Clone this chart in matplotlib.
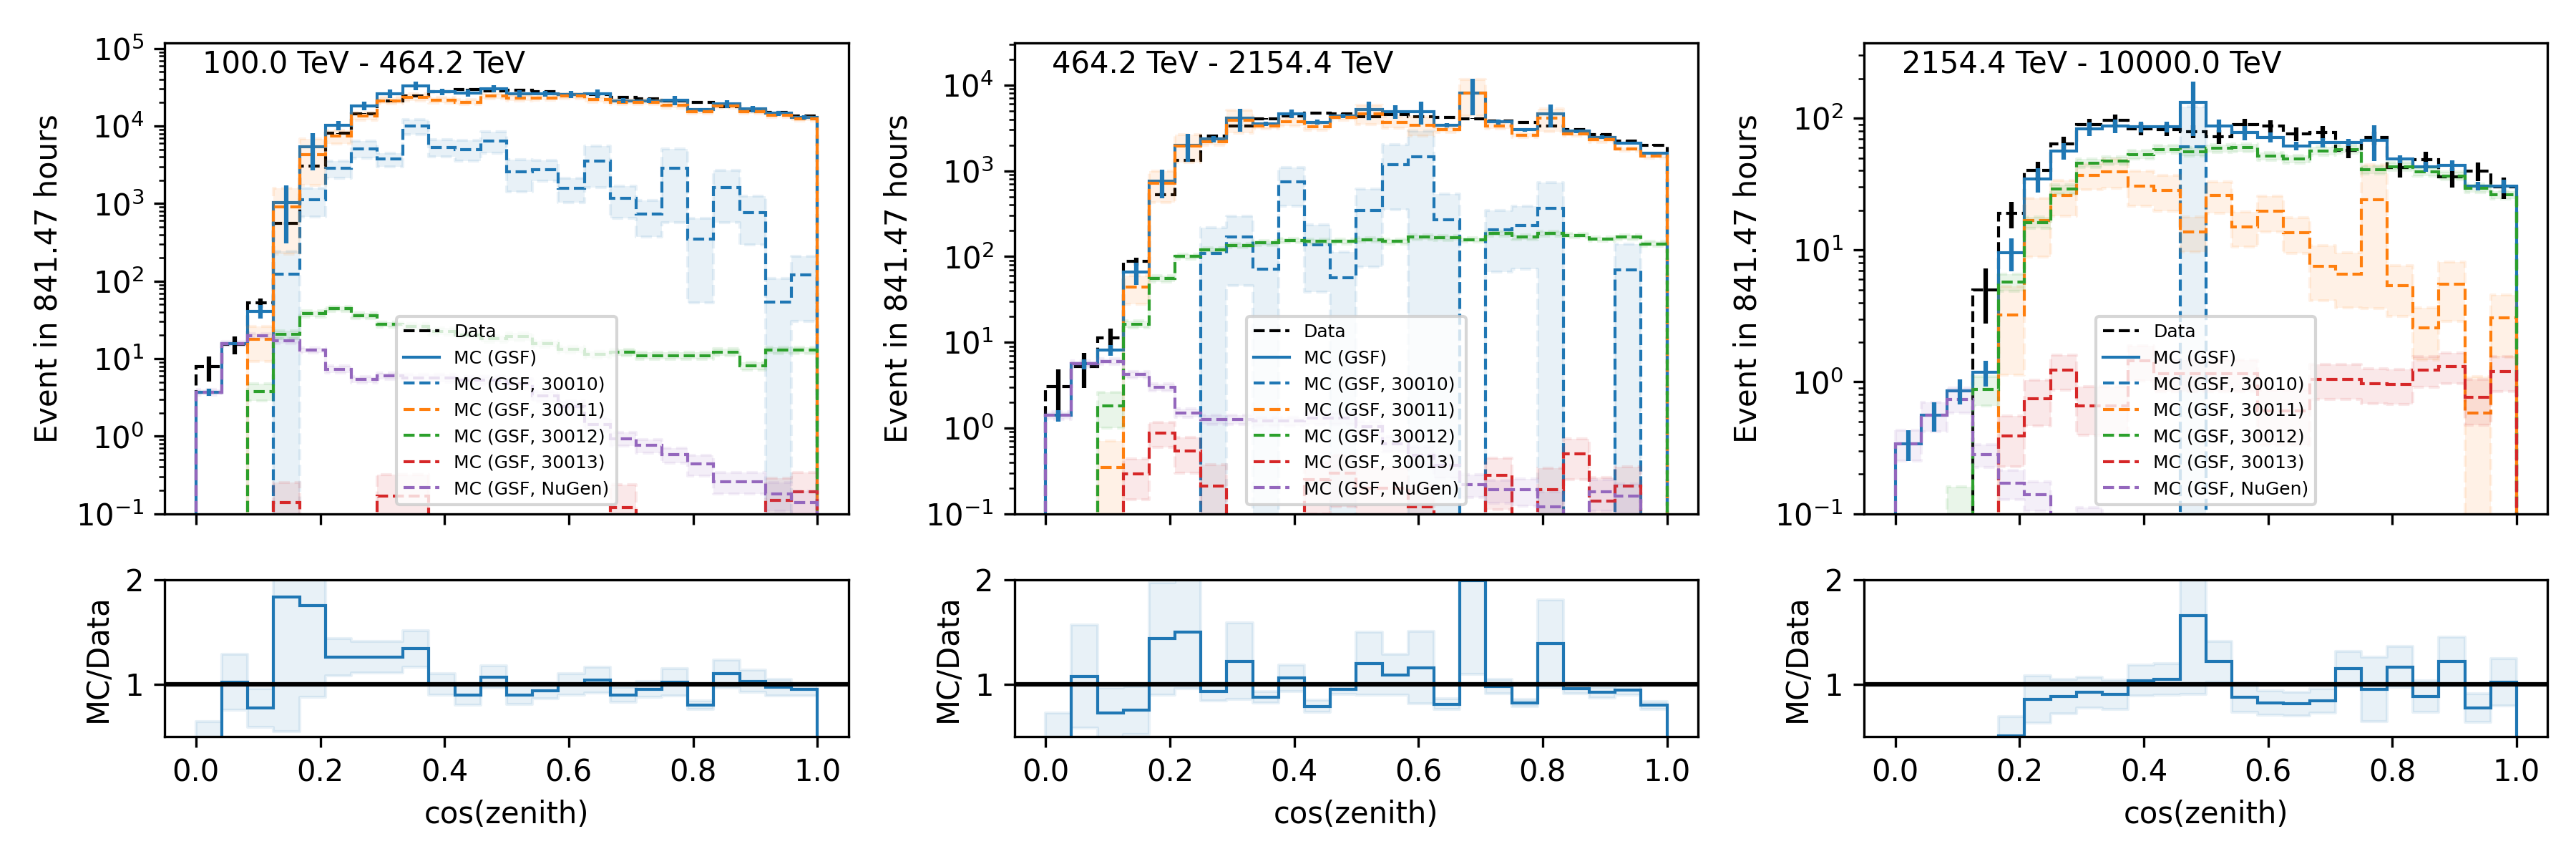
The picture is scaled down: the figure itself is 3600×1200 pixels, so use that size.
import numpy as np
import matplotlib
matplotlib.use("Agg")
import matplotlib.pyplot as plt

# === bins in cos(zenith) ===
edges = np.linspace(0.0, 1.0, 25)
centers = 0.5 * (edges[1:] + edges[:-1])

energy_labels = ["100.0 TeV - 464.2 TeV", "464.2 TeV - 2154.4 TeV", "2154.4 TeV - 10000.0 TeV"]
comp_names = ["MC (GSF, 30010)", "MC (GSF, 30011)", "MC (GSF, 30012)", "MC (GSF, 30013)", "MC (GSF, NuGen)"]
comp_colors = ["C0", "C1", "C2", "C3", "C4"]
ymax = [1.18e5, 3.1e4, 372]

# === panel 1: 100.0 TeV - 464.2 TeV ===
data_1 = [7.9, 15.4, 53, 557, 3063, 8095, 14520, 20870, 24630, 27800, 29890, 28320,
          29220, 27980, 25700, 25290, 23670, 22420, 21080, 20380, 17640, 16120, 15050, 13580]
mc_1 = [3.7, 15.7, 41, 1020, 5360, 10200, 18300, 26300, 33000, 27800, 26900, 30300,
        26300, 26300, 25700, 26300, 21300, 21300, 21500, 16300, 19400, 16600, 14600, 12900]
mc_err_1 = [0.1, 0.05, 0.2, 0.7, 0.5, 0.14, 0.12, 0.12, 0.13, 0.1, 0.11, 0.1,
            0.1, 0.08, 0.1, 0.12, 0.08, 0.08, 0.13, 0.05, 0.12, 0.1, 0.08, 0.06]
c30010_1 = [0, 0, 0, 122, 1130, 2840, 5100, 3740, 10000, 5350, 5000, 6450,
            2560, 2760, 1570, 3550, 1170, 740, 2830, 350, 1620, 770, 54, 120]
c30010_err_1 = [0, 0, 0, 1.0, 0.4, 0.25, 0.25, 0.2, 0.22, 0.25, 0.3, 0.3,
                0.45, 0.3, 0.35, 0.55, 0.45, 0.5, 0.8, 0.85, 0.65, 0.62, 1.0, 0.75]
c30011_1 = [0, 0, 17.6, 900, 4290, 7370, 13500, 21300, 23600, 21500, 20400, 24400,
            23000, 23000, 24400, 21800, 20400, 20400, 18500, 15300, 18000, 15300, 13700, 12500]
c30011_err_1 = [0, 0, 0.48, 0.75, 0.6, 0.2, 0.12, 0.1, 0.1, 0.08, 0.08, 0.08,
                0.08, 0.07, 0.07, 0.07, 0.07, 0.07, 0.07, 0.06, 0.06, 0.06, 0.06, 0.06]
c30012_1 = [0, 0, 3.8, 20.5, 38, 44, 36, 27.7, 26, 22.5, 20.4, 18,
            19.2, 15.5, 13.1, 11.3, 12.1, 11, 11, 11, 12.2, 8.1, 12.9, 12.9]
c30012_err_1 = [0, 0, 0.25, 0.12, 0.1, 0.08, 0.08, 0.08, 0.1, 0.1, 0.1, 0.1,
                0.12, 0.1, 0.1, 0.1, 0.1, 0.1, 0.1, 0.1, 0.1, 0.12, 0.1, 0.1]
c30013_1 = [0, 0, 0, 0.14, 0, 0, 0, 0.17, 0.17, 0, 0, 0,
            0, 0, 0, 0, 0.12, 0, 0, 0, 0, 0, 0.15, 0.19]
c30013_err_1 = [0, 0, 0, 0.8, 0, 0, 0, 0.9, 0.9, 0, 0, 0,
                0, 0, 0, 0, 1.0, 0, 0, 0, 0, 0, 0.9, 0.8]
nugen_1 = [3.7, 15.7, 19.8, 17, 12.8, 7.3, 5.4, 6.0, 5.6, 5.6, 5.3, 5.3,
           4.8, 3.3, 2.4, 1.43, 0.93, 0.76, 0.58, 0.44, 0.26, 0.26, 0.18, 0.14]
nugen_err_1 = [0.08, 0.06, 0.06, 0.07, 0.08, 0.1, 0.1, 0.1, 0.12, 0.12, 0.12, 0.12,
               0.15, 0.15, 0.18, 0.2, 0.2, 0.2, 0.22, 0.3, 0.3, 0.3, 0.4, 0.4]

# === panel 2: 464.2 TeV - 2154.4 TeV ===
data_2 = [3.07, 5.2, 11.2, 88, 530, 1330, 2530, 3360, 4050, 4390, 4680, 4600,
          4290, 4520, 4250, 4200, 4070, 3800, 3660, 3310, 3020, 2670, 2220, 2000]
mc_2 = [1.4, 5.6, 8.1, 66, 760, 1990, 2350, 4100, 3560, 4650, 3700, 4370,
        5150, 4930, 4930, 3400, 8100, 3720, 3000, 4600, 2900, 2460, 2090, 1600]
mc_err_2 = [0.15, 0.13, 0.14, 0.29, 0.37, 0.36, 0.09, 0.3, 0.06, 0.12, 0.07, 0.05,
            0.25, 0.18, 0.3, 0.06, 0.45, 0.07, 0.04, 0.3, 0.05, 0.05, 0.04, 0.04]
c30010_2 = [0, 0, 0, 0, 0, 0, 109, 170, 71, 740, 137, 57,
            346, 1180, 1450, 268, 0, 205, 229, 363, 0, 0, 70, 0]
c30010_err_2 = [0, 0, 0, 0, 0, 0, 1.0, 0.73, 1.0, 0.48, 0.72, 1.0,
                0.78, 0.7, 1.0, 1.0, 0, 0.68, 0.69, 1.0, 0, 0, 1.0, 0]
c30011_2 = [0, 0, 0.35, 44, 710, 1960, 2190, 3900, 3330, 3720, 3240, 4170,
            4650, 3700, 3400, 3000, 8000, 3330, 2600, 4100, 2700, 2300, 1800, 1480]
c30011_err_2 = [0, 0, 1.0, 0.37, 0.4, 0.36, 0.1, 0.3, 0.07, 0.1, 0.08, 0.06,
                0.25, 0.15, 0.25, 0.07, 0.45, 0.08, 0.05, 0.3, 0.06, 0.06, 0.05, 0.05]
c30012_2 = [0, 0, 1.8, 16.3, 55, 100, 120, 135, 144, 153, 150, 150,
            158, 150, 168, 165, 158, 185, 168, 185, 175, 160, 168, 141]
c30012_err_2 = [0, 0, 0.45, 0.1, 0.08, 0.06, 0.06, 0.06, 0.06, 0.06, 0.06, 0.06,
                0.06, 0.06, 0.06, 0.06, 0.06, 0.06, 0.06, 0.06, 0.06, 0.06, 0.06, 0.06]
c30013_2 = [0, 0, 0, 0.29, 0.88, 0.54, 0.21, 0, 0, 0, 0.25, 0.3,
            0.2, 0.2, 0.12, 0, 0, 0.28, 0, 0.19, 0.5, 0.14, 0.21, 0]
c30013_err_2 = [0, 0, 0, 0.5, 0.33, 0.45, 0.8, 0, 0, 0, 0.6, 0.6,
                0.7, 0.7, 0.8, 0, 0, 0.6, 0, 0.8, 0.5, 0.9, 0.7, 0]
nugen_2 = [1.4, 5.6, 6.0, 4.2, 3.0, 1.5, 1.26, 1.25, 1.2, 1.2, 1.3, 1.3,
           1.03, 0.66, 0.48, 0.37, 0.22, 0.19, 0.19, 0.12, 0, 0.18, 0.16, 0]
nugen_err_2 = [0.1, 0.08, 0.07, 0.08, 0.1, 0.12, 0.12, 0.12, 0.12, 0.12, 0.15, 0.15,
               0.15, 0.2, 0.25, 0.3, 0.3, 0.3, 0.35, 0.5, 0, 0.4, 0.4, 0]

# === panel 3: 2154.4 TeV - 10000.0 TeV ===
data_3 = [0, 0, 0, 5.0, 18.9, 40.3, 64, 90, 97, 83, 82, 79,
          72, 89, 87.5, 76, 78, 57, 71, 42, 48.6, 35.9, 39.7, 30]
mc_3 = [0.34, 0.56, 0.86, 1.18, 9.6, 34.5, 56.5, 83, 87.5, 86, 86, 131,
        87.5, 77.7, 71.8, 61.7, 65.5, 65.5, 67.6, 49, 43, 43.8, 30.6, 30.6]
mc_err_3 = [0.26, 0.25, 0.22, 0.22, 0.28, 0.21, 0.14, 0.12, 0.12, 0.09, 0.09, 0.44,
            0.11, 0.12, 0.09, 0.08, 0.08, 0.06, 0.3, 0.07, 0.09, 0.09, 0.08, 0.12]
c30010_3 = [0, 0, 0, 0, 0, 0, 0, 0, 0, 0, 0, 61,
            0, 0, 0, 0, 0, 0, 0, 0, 0, 0, 0, 0]
c30010_err_3 = [0, 0, 0, 0, 0, 0, 0, 0, 0, 0, 0, 1.0,
                0, 0, 0, 0, 0, 0, 0, 0, 0, 0, 0, 0]
c30011_3 = [0, 0, 0, 0, 3.2, 16.7, 25.8, 37, 39.4, 30.6, 28.3, 13.8,
            26, 15, 19.7, 13.5, 7.5, 6.6, 24, 5.4, 2.56, 5.5, 0.58, 3.06]
c30011_err_3 = [0, 0, 0, 0, 0.65, 0.47, 0.3, 0.22, 0.25, 0.3, 0.3, 0.3,
                0.27, 0.3, 0.3, 0.3, 0.45, 0.45, 0.85, 0.42, 0.43, 0.48, 0.9, 0.5]
c30012_3 = [0, 0, 0.08, 0.88, 5.7, 16.2, 29, 45.7, 47.5, 53, 58, 55.7,
            59, 60, 51.5, 48.8, 56.5, 58, 40.5, 43, 39.3, 36.6, 29.5, 26.3]
c30012_err_3 = [0, 0, 1.0, 0.25, 0.15, 0.1, 0.08, 0.07, 0.07, 0.07, 0.07, 0.07,
                0.07, 0.07, 0.07, 0.07, 0.07, 0.07, 0.07, 0.07, 0.07, 0.07, 0.07, 0.07]
c30013_3 = [0, 0, 0, 0, 0.39, 0.75, 1.23, 0.66, 0.66, 1.45, 1.15, 1.15,
            1.15, 1.15, 0.6, 0.6, 1.05, 1.05, 0.97, 0.96, 1.23, 1.31, 0.76, 1.2]
c30013_err_3 = [0, 0, 0, 0, 0.42, 0.38, 0.3, 0.4, 0.4, 0.3, 0.27, 0.27,
                0.27, 0.27, 0.45, 0.45, 0.3, 0.3, 0.3, 0.3, 0.26, 0.26, 0.38, 0.3]
nugen_3 = [0.34, 0.56, 0.74, 0.28, 0.17, 0.14, 0.06, 0.07, 0.05, 0.04, 0, 0,
           0, 0, 0, 0, 0, 0, 0, 0, 0, 0, 0, 0]
nugen_err_3 = [0.26, 0.25, 0.22, 0.2, 0.25, 0.25, 0.5, 0.6, 0.6, 0.6, 0, 0,
               0, 0, 0, 0, 0, 0, 0, 0, 0, 0, 0, 0]

panels = [
    (data_1, mc_1, mc_err_1, [(c30010_1, c30010_err_1), (c30011_1, c30011_err_1), (c30012_1, c30012_err_1),
                              (c30013_1, c30013_err_1), (nugen_1, nugen_err_1)]),
    (data_2, mc_2, mc_err_2, [(c30010_2, c30010_err_2), (c30011_2, c30011_err_2), (c30012_2, c30012_err_2),
                              (c30013_2, c30013_err_2), (nugen_2, nugen_err_2)]),
    (data_3, mc_3, mc_err_3, [(c30010_3, c30010_err_3), (c30011_3, c30011_err_3), (c30012_3, c30012_err_3),
                              (c30013_3, c30013_err_3), (nugen_3, nugen_err_3)]),
]


def ext(a):
    # repeat last value so fill_between(step='post') covers the last bin
    return np.append(a, a[-1])


fig = plt.figure(figsize=(12, 4), dpi=300)
gs = fig.add_gridspec(2, 3, height_ratios=[3, 1], left=0.064, right=0.989,
                      top=0.95, bottom=0.1425, wspace=0.243, hspace=0.21)

for i, (data, mc, mc_err, comps) in enumerate(panels):
    data = np.array(data, dtype=float)
    mc = np.array(mc, dtype=float)
    mc_err = np.array(mc_err, dtype=float)

    ax = fig.add_subplot(gs[0, i])
    rax = fig.add_subplot(gs[1, i], sharex=ax)

    # --- main panel ---
    ax.stairs(data, edges, color="k", ls="--", lw=1, label="Data")
    has = data > 0
    ax.errorbar(centers[has], data[has], yerr=np.sqrt(data[has]), fmt="none", ecolor="k", elinewidth=1.5)

    ax.stairs(mc, edges, color="C0", lw=1, label="MC (GSF)")
    ax.errorbar(centers, mc, yerr=mc * mc_err, fmt="none", ecolor="C0", elinewidth=1.5)

    for (vals, err), name, col in zip(comps, comp_names, comp_colors):
        vals = np.array(vals, dtype=float)
        err = np.array(err, dtype=float)
        ax.stairs(vals, edges, color=col, ls="--", lw=1, label=name)
        ax.fill_between(edges, ext(vals * (1 - err)), ext(vals * (1 + err)),
                        step="post", color=col, alpha=0.1, ls="--")

    ax.set_yscale("log")
    ax.set_ylim(0.1, ymax[i])
    ax.set_ylabel("Event in 841.47 hours")
    ax.tick_params(labelbottom=False)
    ax.text(0.055, 0.985, energy_labels[i], transform=ax.transAxes, ha="left", va="top")
    ax.legend(loc="lower center", fontsize=6)

    # --- ratio panel: MC and data uncertainties combined ---
    with np.errstate(divide="ignore", invalid="ignore"):
        ratio = np.where(data > 0, mc / data, np.nan)
        rel = np.sqrt(mc_err ** 2 + np.where(data > 0, 1.0 / data, np.nan))
    rax.stairs(ratio, edges, color="C0", lw=1)
    rax.fill_between(edges, ext(ratio * (1 - rel)), ext(ratio * (1 + rel)),
                     step="post", color="C0", alpha=0.1)
    rax.axhline(1, color="k", lw=1.5)
    rax.set_ylim(0.5, 2)
    rax.set_yticks([1, 2])
    rax.set_ylabel("MC/Data")
    rax.set_xlabel("cos(zenith)")

fig.savefig("out.png", dpi=300)
